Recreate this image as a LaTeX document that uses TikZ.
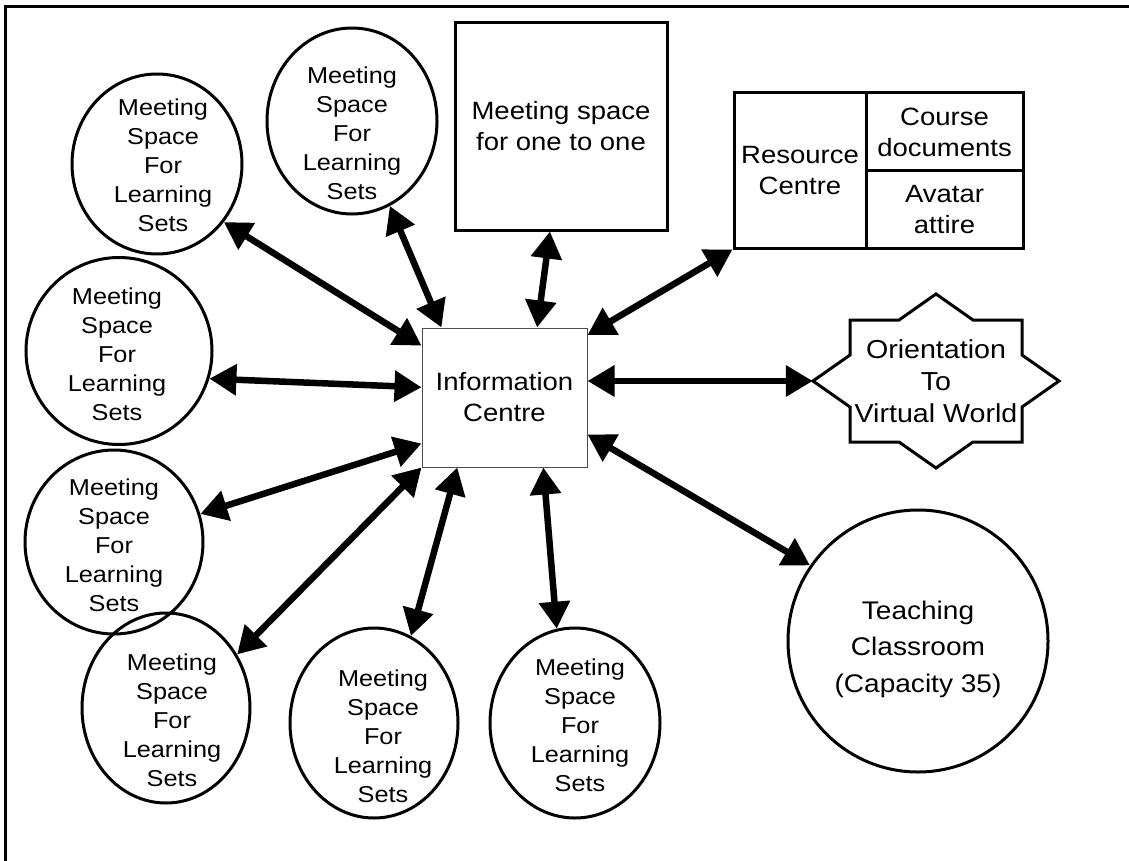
\documentclass[tikz,border=0pt]{standalone}
\usepackage{fontspec}
\setmainfont{Liberation Sans}[FakeStretch=1.1]
\usetikzlibrary{arrows.meta,shapes.geometric}

\newcommand\learnsetlines{Meeting\\Space\\For\\Learning\\Sets}

\tikzset{
  outline/.style={draw=black, line width=3pt},
  roundroom/.style={ellipse, outline, inner sep=0pt},
  roomtext/.style={inner sep=0pt, align=center,
    font=\fontsize{23}{29}\selectfont},
  boxroom/.style={rectangle, outline, inner sep=0pt, align=center,
    font=\fontsize{25}{31}\selectfont},
  hub/.style={rectangle, draw=black!70, line width=1pt, inner sep=0pt,
    align=center, font=\fontsize{25}{31}\selectfont},
  link/.style={line width=6.5pt,
    {Triangle[length=27pt,width=30pt]}-{Triangle[length=27pt,width=30pt]}},
}

\begin{document}
\begin{tikzpicture}[x=1pt,y=-1pt]
  \useasboundingbox (0,0) rectangle (1129,861);

  % outer frame (top and left edges only)
  \draw[line width=3pt] (5,861) -- (5,7) -- (1129,7);

  % central hub
  \node[hub, minimum width=165pt, minimum height=139pt] (info) at (504.5,397.5)
    {Information\\Centre};

  % learning-set rooms: outline and caption
  \node[roundroom, minimum width=170pt, minimum height=180pt] (cA) at (157,164) {};
  \node[roomtext] (tA) at (163,165) {\learnsetlines};
  \node[roundroom, minimum width=170pt, minimum height=186pt] (cB) at (352,121) {};
  \node[roomtext] (tB) at (352,133) {\learnsetlines};
  \node[roundroom, minimum width=186pt, minimum height=187pt] (cC) at (119,351) {};
  \node[roomtext] (tC) at (117,354) {\learnsetlines};
  \node[roundroom, minimum width=178pt, minimum height=184pt] (cD) at (114,542) {};
  \node[roomtext] (tD) at (114,545) {\learnsetlines};
  \node[roundroom, minimum width=168pt, minimum height=190pt] (cE) at (166,708) {};
  \node[roomtext] (tE) at (172,720) {\learnsetlines};
  \node[roundroom, minimum width=168pt, minimum height=190pt] (cF) at (374,723) {};
  \node[roomtext] (tF) at (383,736) {\learnsetlines};
  \node[roundroom, minimum width=170pt, minimum height=190pt] (cG) at (575,723) {};
  \node[roomtext] (tG) at (580,725) {\learnsetlines};

  % one-to-one room
  \node[boxroom, minimum width=212pt, minimum height=207pt] (one) at (561,126.5)
    {Meeting space\\for one to one};

  % resource centre with its two sections
  \node[boxroom, minimum width=132pt, minimum height=155pt] (resC) at (800,170.5)
    {Resource\\Centre};
  \node[boxroom, minimum width=157pt, minimum height=78pt] (docs) at (944.5,132)
    {Course\\documents};
  \node[boxroom, minimum width=157pt, minimum height=77pt] (attire) at (944.5,209.5)
    {Avatar\\attire};

  % orientation area: square overlaid with a diamond
  \node[rectangle, inner sep=0pt, minimum width=246pt, minimum height=174pt,
        align=center, font=\fontsize{26}{32}\selectfont] (orient) at (936,381)
    {Orientation\\To\\Virtual World};
  \begin{scope}[shift={(orient.center)}]
    \draw[outline, line join=miter]
      (-123,0) -- (-86,-26) -- (-86,-61) -- (-37,-61) -- (0,-87) -- (37,-61)
      -- (86,-61) -- (86,-26) -- (123,0) -- (86,26) -- (86,61) -- (37,61)
      -- (0,87) -- (-37,61) -- (-86,61) -- (-86,26) -- cycle;
  \end{scope}

  % teaching classroom
  \node[roundroom, minimum width=260pt, minimum height=262pt] (teach) at (918,641) {};
  \node[roomtext, font=\fontsize{25.5}{36.5}\selectfont] (tT) at (918,649)
    {Teaching\\Classroom\\(Capacity 35)};

  % connections to the hub
  \draw[link] (cA.-41) -- (info.148);
  \draw[link] (cB.-66) -- (info.132.5);
  \draw[link] (one.-96.6) -- (info.65.3);
  \draw[link] (resC.south west) -- (info.37.5);
  \draw[link] (info.east |- orient.west) -- (orient.west);
  \draw[link] (teach.145) -- (info.-24);
  \draw[link] (cC.-17) -- (info.173.4);
  \draw[link] (cD.18) -- (info.-151.7);
  \draw[link] (cE.37) -- (info.south west);
  \draw[link] (cF.67) -- (info.-124.3);
  \draw[link] (cG.101) -- (info.-61);
\end{tikzpicture}
\end{document}
